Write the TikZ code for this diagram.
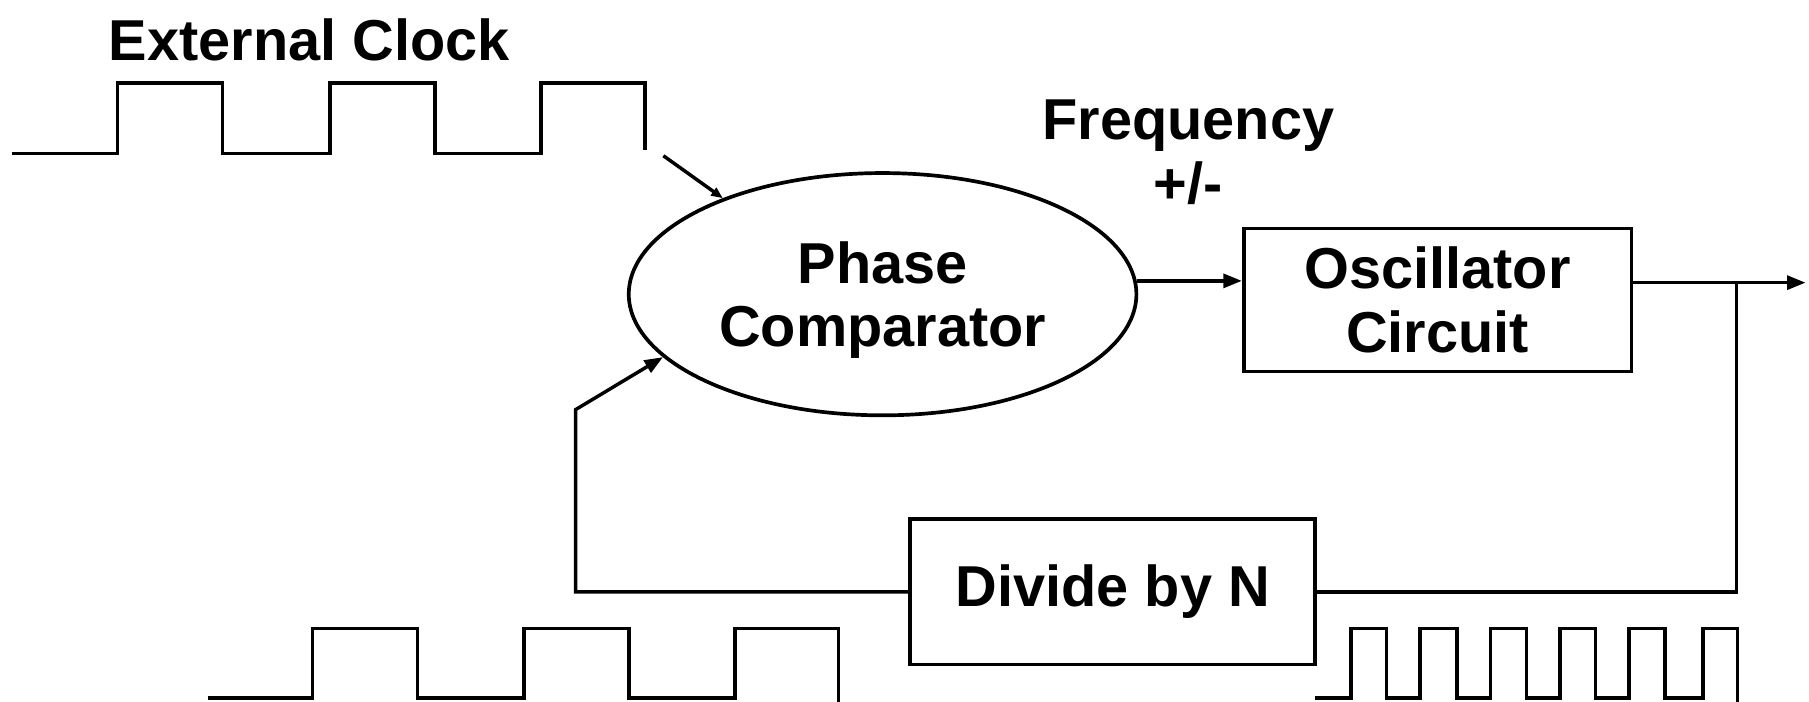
\documentclass[tikz,border=0pt]{standalone}
\usepackage{fontspec}
\setmainfont{Liberation Sans}
\usetikzlibrary{shapes.geometric,arrows.meta}
\begin{document}
\begin{tikzpicture}[x=0.5pt,y=-0.5pt,
  wire/.style={line width=1.5pt,line join=miter},
  flow/.style={wire,-{Triangle[length=8pt,width=6pt]}},
  lbl/.style={font=\fontsize{25}{27.5}\selectfont\bfseries,align=center,inner sep=0pt},
  blk/.style={draw,line width=1.6pt,rectangle,inner sep=0pt,lbl}]
\useasboundingbox (0,0) rectangle (1568,608);

% labels
\node[lbl] (ext) at (268,35) {External Clock};
\node[lbl] (freq) at (1030,132) {Frequency\\+/-};

% blocks
\node[draw,line width=1.6pt,ellipse,minimum width=220pt,minimum height=105pt,inner sep=0pt] (pc) at (765,255) {};
\node[lbl] (pctext) at (765,260) {Phase\\Comparator};
\node[blk,minimum width=168pt,minimum height=62pt] (osc) at (1246,260) {Oscillator\\Circuit};
\node[blk,minimum width=175.5pt,minimum height=63pt] (div) at (964.5,513) {\raisebox{-2pt}{Divide by N}};

% reference clock waveform
\draw[wire] (10,133) -- (102,133) -- (102,72) -- (193,72) -- (193,133) -- (286,133)
  -- (286,72) -- (377,72) -- (377,133) -- (469,133) -- (469,72) -- (559,72) -- (559,130);

% divided clock waveform
\draw[wire] (180,605) -- (271,605) -- (271,545) -- (362,545) -- (362,605) -- (454,605)
  -- (454,545) -- (545,545) -- (545,605) -- (637,605) -- (637,545) -- (727,545) -- (727,610);

% oscillator output waveform
\draw[wire] (1140,605) -- (1171,605)
  \foreach \r/\f/\n in {1171/1202/1231,1231/1263/1292,1292/1323/1352,1352/1383/1412,1412/1443/1476}
    { -- (\r,545) -- (\f,545) -- (\f,605) -- (\n,605) }
  -- (1476,545) -- (1506,545) -- (1506,610);

% connections
\coordinate (clkin) at (575,135);
\coordinate (out) at (1565,245);
\coordinate (br) at (1505,245);
\coordinate (fbcorner) at (499,513);
\coordinate (fbbend) at (499,355);

\draw[flow,-{Triangle[length=5pt,width=4pt]}] (clkin) -- (pc.149);
\draw[flow] (pc.3) -- (pc.3 -| osc.west);
\draw[flow] (osc.east |- out) -- (out);
\draw[wire] (br) -- (br |- div.east) -- (div.east);
\draw[flow] (div.west) -- (fbcorner) -- (fbbend) -- (pc.196);
\end{tikzpicture}
\end{document}
